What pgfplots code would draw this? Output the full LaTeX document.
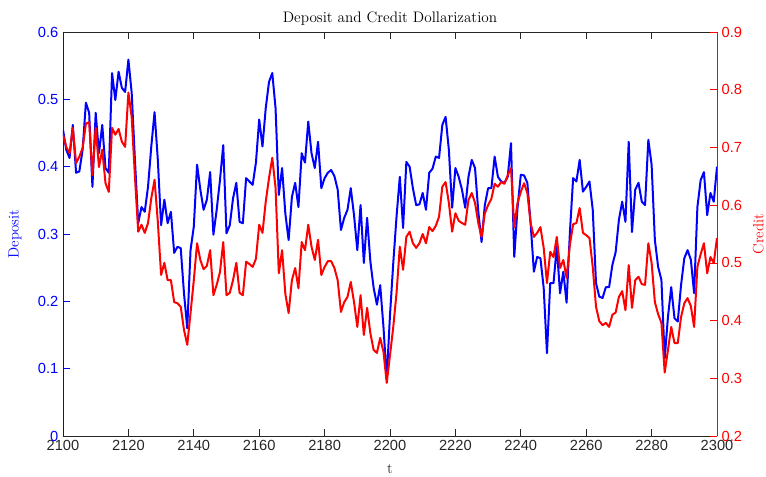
\documentclass[border=0pt]{standalone}
\usepackage{fontspec}
\setsansfont{Liberation Sans}
\usepackage{pgfplots}
\usepackage{pgfplotstable}
\pgfplotsset{compat=1.18}
\definecolor{axgray}{gray}{0.15}
\pgfplotstableread[row sep=\\]{
t v\\
2100 .455\\ 2101 .425\\ 2102 .413\\ 2103 .462\\ 2104 .391\\ 2105 .393\\ 2106 .425\\ 2107 .495\\ 2108 .480\\ 2109 .370\\
2110 .480\\ 2111 .420\\ 2112 .462\\ 2113 .398\\ 2114 .391\\ 2115 .539\\ 2116 .499\\ 2117 .541\\ 2118 .517\\ 2119 .511\\
2120 .559\\ 2121 .510\\ 2122 .410\\ 2123 .316\\ 2124 .340\\ 2125 .333\\ 2126 .370\\ 2127 .430\\ 2128 .481\\ 2129 .410\\
2130 .313\\ 2131 .351\\ 2132 .316\\ 2133 .333\\ 2134 .272\\ 2135 .281\\ 2136 .279\\ 2137 .212\\ 2138 .160\\ 2139 .276\\
2140 .311\\ 2141 .403\\ 2142 .366\\ 2143 .336\\ 2144 .351\\ 2145 .392\\ 2146 .299\\ 2147 .336\\ 2148 .380\\ 2149 .432\\
2150 .301\\ 2151 .313\\ 2152 .353\\ 2153 .376\\ 2154 .318\\ 2155 .316\\ 2156 .383\\ 2157 .378\\ 2158 .373\\ 2159 .406\\
2160 .470\\ 2161 .430\\ 2162 .487\\ 2163 .526\\ 2164 .539\\ 2165 .487\\ 2166 .358\\ 2167 .398\\ 2168 .330\\ 2169 .291\\
2170 .355\\ 2171 .376\\ 2172 .340\\ 2173 .420\\ 2174 .406\\ 2175 .467\\ 2176 .420\\ 2177 .398\\ 2178 .437\\ 2179 .368\\
2180 .383\\ 2181 .391\\ 2182 .395\\ 2183 .386\\ 2184 .366\\ 2185 .306\\ 2186 .324\\ 2187 .336\\ 2188 .368\\ 2189 .328\\
2190 .276\\ 2191 .343\\ 2192 .257\\ 2193 .324\\ 2194 .259\\ 2195 .220\\ 2196 .195\\ 2197 .224\\ 2198 .162\\ 2199 .085\\
2200 .180\\ 2201 .257\\ 2202 .326\\ 2203 .385\\ 2204 .309\\ 2205 .407\\ 2206 .400\\ 2207 .368\\ 2208 .343\\ 2209 .344\\
2210 .361\\ 2211 .336\\ 2212 .391\\ 2213 .397\\ 2214 .415\\ 2215 .413\\ 2216 .462\\ 2217 .474\\ 2218 .425\\ 2219 .339\\
2220 .398\\ 2221 .385\\ 2222 .366\\ 2223 .339\\ 2224 .385\\ 2225 .410\\ 2226 .398\\ 2227 .333\\ 2228 .288\\ 2229 .343\\
2230 .368\\ 2231 .368\\ 2232 .415\\ 2233 .385\\ 2234 .378\\ 2235 .376\\ 2236 .385\\ 2237 .435\\ 2238 .266\\ 2239 .339\\
2240 .388\\ 2241 .387\\ 2242 .376\\ 2243 .316\\ 2244 .244\\ 2245 .266\\ 2246 .264\\ 2247 .220\\ 2248 .123\\ 2249 .227\\
2250 .227\\ 2251 .281\\ 2252 .212\\ 2253 .244\\ 2254 .198\\ 2255 .301\\ 2256 .383\\ 2257 .378\\ 2258 .410\\ 2259 .363\\
2260 .370\\ 2261 .378\\ 2262 .336\\ 2263 .227\\ 2264 .207\\ 2265 .205\\ 2266 .221\\ 2267 .221\\ 2268 .254\\ 2269 .273\\
2270 .321\\ 2271 .348\\ 2272 .318\\ 2273 .437\\ 2274 .303\\ 2275 .366\\ 2276 .376\\ 2277 .348\\ 2278 .343\\ 2279 .440\\
2280 .403\\ 2281 .291\\ 2282 .251\\ 2283 .232\\ 2284 .115\\ 2285 .177\\ 2286 .221\\ 2287 .175\\ 2288 .170\\ 2289 .224\\
2290 .264\\ 2291 .276\\ 2292 .262\\ 2293 .212\\ 2294 .340\\ 2295 .380\\ 2296 .392\\ 2297 .328\\ 2298 .361\\ 2299 .348\\
2300 .400\\
}\deposit
\pgfplotstableread[row sep=\\]{
t v\\
2100 .722\\ 2101 .701\\ 2102 .690\\ 2103 .734\\ 2104 .673\\ 2105 .684\\ 2106 .699\\ 2107 .741\\ 2108 .744\\ 2109 .652\\
2110 .734\\ 2111 .666\\ 2112 .696\\ 2113 .638\\ 2114 .623\\ 2115 .734\\ 2116 .722\\ 2117 .732\\ 2118 .710\\ 2119 .701\\
2120 .795\\ 2121 .753\\ 2122 .649\\ 2123 .554\\ 2124 .566\\ 2125 .552\\ 2126 .569\\ 2127 .612\\ 2128 .644\\ 2129 .571\\
2130 .479\\ 2131 .500\\ 2132 .470\\ 2133 .470\\ 2134 .432\\ 2135 .430\\ 2136 .424\\ 2137 .384\\ 2138 .358\\ 2139 .413\\
2140 .470\\ 2141 .534\\ 2142 .505\\ 2143 .489\\ 2144 .495\\ 2145 .522\\ 2146 .444\\ 2147 .462\\ 2148 .484\\ 2149 .536\\
2150 .444\\ 2151 .448\\ 2152 .470\\ 2153 .500\\ 2154 .448\\ 2155 .444\\ 2156 .502\\ 2157 .498\\ 2158 .493\\ 2159 .507\\
2160 .566\\ 2161 .552\\ 2162 .606\\ 2163 .647\\ 2164 .682\\ 2165 .630\\ 2166 .482\\ 2167 .522\\ 2168 .446\\ 2169 .413\\
2170 .470\\ 2171 .491\\ 2172 .456\\ 2173 .536\\ 2174 .522\\ 2175 .566\\ 2176 .528\\ 2177 .505\\ 2178 .540\\ 2179 .479\\
2180 .493\\ 2181 .503\\ 2182 .503\\ 2183 .491\\ 2184 .470\\ 2185 .415\\ 2186 .432\\ 2187 .441\\ 2188 .467\\ 2189 .432\\
2190 .389\\ 2191 .444\\ 2192 .375\\ 2193 .422\\ 2194 .378\\ 2195 .349\\ 2196 .344\\ 2197 .370\\ 2198 .346\\ 2199 .292\\
2200 .340\\ 2201 .389\\ 2202 .448\\ 2203 .528\\ 2204 .488\\ 2205 .545\\ 2206 .554\\ 2207 .534\\ 2208 .526\\ 2209 .534\\
2210 .550\\ 2211 .534\\ 2212 .562\\ 2213 .555\\ 2214 .564\\ 2215 .580\\ 2216 .632\\ 2217 .640\\ 2218 .604\\ 2219 .554\\
2220 .586\\ 2221 .573\\ 2222 .569\\ 2223 .566\\ 2224 .609\\ 2225 .621\\ 2226 .604\\ 2227 .569\\ 2228 .545\\ 2229 .586\\
2230 .600\\ 2231 .611\\ 2232 .637\\ 2233 .632\\ 2234 .640\\ 2235 .637\\ 2236 .652\\ 2237 .664\\ 2238 .562\\ 2239 .604\\
2240 .623\\ 2241 .638\\ 2242 .621\\ 2243 .569\\ 2244 .545\\ 2245 .552\\ 2246 .562\\ 2247 .526\\ 2248 .465\\ 2249 .519\\
2250 .510\\ 2251 .545\\ 2252 .491\\ 2253 .505\\ 2254 .474\\ 2255 .531\\ 2256 .567\\ 2257 .569\\ 2258 .595\\ 2259 .552\\
2260 .548\\ 2261 .543\\ 2262 .493\\ 2263 .424\\ 2264 .399\\ 2265 .392\\ 2266 .396\\ 2267 .389\\ 2268 .410\\ 2269 .414\\
2270 .441\\ 2271 .451\\ 2272 .418\\ 2273 .496\\ 2274 .422\\ 2275 .470\\ 2276 .476\\ 2277 .463\\ 2278 .462\\ 2279 .534\\
2280 .500\\ 2281 .432\\ 2282 .411\\ 2283 .396\\ 2284 .310\\ 2285 .349\\ 2286 .389\\ 2287 .361\\ 2288 .361\\ 2289 .406\\
2290 .430\\ 2291 .439\\ 2292 .425\\ 2293 .389\\ 2294 .493\\ 2295 .515\\ 2296 .534\\ 2297 .482\\ 2298 .510\\ 2299 .500\\
2300 .543\\
}\credit
\begin{document}
\begin{tikzpicture}
\useasboundingbox (-47.25pt,-30pt) rectangle (527.25pt,327pt);
\pgfplotsset{
  every axis/.append style={
    scale only axis, width=490.5pt, height=303pt,
    xmin=2100, xmax=2300,
    tick align=inside, major tick length=5pt,
    /pgf/number format/assume math mode=true,
    /pgf/number format/set thousands separator={},
    ticklabel style={font=\sffamily\fontsize{11}{13}\selectfont},
    label style={font=\fontsize{11.2}{13}\selectfont},
  }
}
\begin{axis}[
  axis x line*=box, axis y line*=left,
  ymin=0, ymax=0.6, ytick={0,0.1,...,0.6},
  xtick={2100,2120,...,2300},
  x axis line style={axgray, line width=0.5pt},
  xtick style={axgray, line width=0.5pt},
  xticklabel style={axgray},
  y axis line style={blue, line width=0.5pt},
  ytick style={blue, line width=0.5pt},
  yticklabel style={blue},
  title={Deposit and Credit Dollarization},
  title style={font=\fontsize{11.4}{13}\selectfont, at={(axis description cs:0.5,1)}, anchor=base, yshift=1.5pt},
  xlabel={t},
  xlabel style={at={(axis description cs:0.5,0)}, anchor=base, yshift=-28pt, axgray},
  ylabel={Deposit},
  ylabel style={blue, at={(axis description cs:-0.0734,0.5)}, anchor=center, rotate=0},
]
\addplot[blue, line width=1.5pt, line join=round] table[x=t, y=v] {\deposit};
\end{axis}
\begin{axis}[
  axis x line=none, axis y line*=right,
  ymin=0.2, ymax=0.9, ytick={0.2,0.3,...,0.9},
  y axis line style={red, line width=0.5pt},
  ytick style={red, line width=0.5pt},
  yticklabel style={red},
  ylabel={Credit},
  ylabel style={red, at={(axis description cs:1.063,0.5)}, anchor=center},
]
\addplot[red, line width=1.5pt, line join=round] table[x=t, y=v] {\credit};
\end{axis}
\end{tikzpicture}
\end{document}
